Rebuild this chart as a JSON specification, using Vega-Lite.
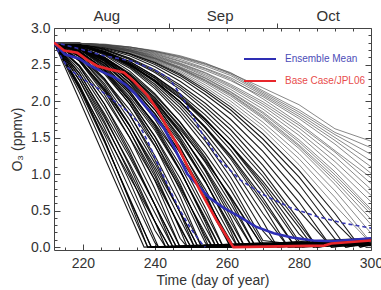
{
  "$schema": "https://vega.github.io/schema/vega-lite/v6.json",
  "width": 317,
  "height": 222,
  "autosize": {"type": "none"},
  "padding": {"left": 54, "top": 28, "right": 10, "bottom": 40},
  "background": "white",
  "config": {
    "font": "Liberation Sans",
    "view": {"stroke": "#444", "strokeWidth": 1},
    "axis": {"grid": false, "domain": false, "tickColor": "#444", "tickWidth": 1, "labelColor": "#333", "titleColor": "#333", "labelFontSize": 14, "titleFontSize": 14, "titleFontWeight": "normal", "labelFlush": false}
  },
  "datasets": {
    "ens": [
      {"m":1,"d":212,"o":2.8},{"m":1,"d":219,"o":2.02},{"m":1,"d":226,"o":1.23},{"m":1,"d":233,"o":0.45},{"m":1,"d":237,"o":0},{"m":1,"d":254,"o":0.02},{"m":1,"d":300,"o":0.05},
      {"m":2,"d":212,"o":2.8},{"m":2,"d":219,"o":2.17},{"m":2,"d":226,"o":1.44},{"m":2,"d":233,"o":0.67},{"m":2,"d":239,"o":0},{"m":2,"d":261,"o":0.03},{"m":2,"d":300,"o":0.04},
      {"m":3,"d":212,"o":2.8},{"m":3,"d":219,"o":2.29},{"m":3,"d":226,"o":1.63},{"m":3,"d":233,"o":0.9},{"m":3,"d":240,"o":0.11},{"m":3,"d":241,"o":0},{"m":3,"d":270,"o":0.05},{"m":3,"d":300,"o":0.07},
      {"m":4,"d":212,"o":2.8},{"m":4,"d":219,"o":2.39},{"m":4,"d":226,"o":1.8},{"m":4,"d":233,"o":1.11},{"m":4,"d":240,"o":0.35},{"m":4,"d":243,"o":0},{"m":4,"d":261,"o":0.02},{"m":4,"d":300,"o":0.03},
      {"m":5,"d":212,"o":2.8},{"m":5,"d":219,"o":2.48},{"m":5,"d":226,"o":1.96},{"m":5,"d":233,"o":1.31},{"m":5,"d":240,"o":0.58},{"m":5,"d":245,"o":0},{"m":5,"d":280,"o":0.04},{"m":5,"d":300,"o":0.08},
      {"m":6,"d":212,"o":2.8},{"m":6,"d":219,"o":2.55},{"m":6,"d":226,"o":2.09},{"m":6,"d":233,"o":1.5},{"m":6,"d":240,"o":0.8},{"m":6,"d":247,"o":0},{"m":6,"d":270,"o":0.03},{"m":6,"d":300,"o":0.05},
      {"m":7,"d":212,"o":2.8},{"m":7,"d":219,"o":2.61},{"m":7,"d":226,"o":2.21},{"m":7,"d":233,"o":1.67},{"m":7,"d":240,"o":1.01},{"m":7,"d":247,"o":0.24},{"m":7,"d":249,"o":0},{"m":7,"d":261,"o":0.02},{"m":7,"d":300,"o":0.1},
      {"m":8,"d":212,"o":2.8},{"m":8,"d":219,"o":2.65},{"m":8,"d":226,"o":2.31},{"m":8,"d":233,"o":1.82},{"m":8,"d":240,"o":1.2},{"m":8,"d":247,"o":0.47},{"m":8,"d":251,"o":0},{"m":8,"d":280,"o":0.05},{"m":8,"d":300,"o":0.06},
      {"m":9,"d":212,"o":2.8},{"m":9,"d":219,"o":2.68},{"m":9,"d":226,"o":2.4},{"m":9,"d":233,"o":1.96},{"m":9,"d":240,"o":1.39},{"m":9,"d":247,"o":0.69},{"m":9,"d":253,"o":0},{"m":9,"d":270,"o":0.04},{"m":9,"d":300,"o":0.09},
      {"m":10,"d":212,"o":2.8},{"m":10,"d":219,"o":2.69},{"m":10,"d":226,"o":2.43},{"m":10,"d":233,"o":2.03},{"m":10,"d":240,"o":1.51},{"m":10,"d":247,"o":0.87},{"m":10,"d":254,"o":0.11},{"m":10,"d":255,"o":0},{"m":10,"d":280,"o":0.06},{"m":10,"d":300,"o":0.04},
      {"m":11,"d":212,"o":2.8},{"m":11,"d":219,"o":2.72},{"m":11,"d":226,"o":2.49},{"m":11,"d":233,"o":2.14},{"m":11,"d":240,"o":1.66},{"m":11,"d":247,"o":1.06},{"m":11,"d":254,"o":0.34},{"m":11,"d":257,"o":0},{"m":11,"d":270,"o":0.03},{"m":11,"d":300,"o":0.1},
      {"m":12,"d":212,"o":2.8},{"m":12,"d":219,"o":2.72},{"m":12,"d":226,"o":2.52},{"m":12,"d":233,"o":2.19},{"m":12,"d":240,"o":1.75},{"m":12,"d":247,"o":1.2},{"m":12,"d":254,"o":0.54},{"m":12,"d":259,"o":0},{"m":12,"d":290,"o":0.05},{"m":12,"d":300,"o":0.07},
      {"m":13,"d":212,"o":2.8},{"m":13,"d":219,"o":2.74},{"m":13,"d":226,"o":2.57},{"m":13,"d":233,"o":2.28},{"m":13,"d":240,"o":1.88},{"m":13,"d":247,"o":1.37},{"m":13,"d":254,"o":0.74},{"m":13,"d":261,"o":0},{"m":13,"d":280,"o":0.08},{"m":13,"d":300,"o":0.12},
      {"m":14,"d":212,"o":2.8},{"m":14,"d":219,"o":2.75},{"m":14,"d":226,"o":2.59},{"m":14,"d":233,"o":2.32},{"m":14,"d":240,"o":1.96},{"m":14,"d":247,"o":1.48},{"m":14,"d":254,"o":0.9},{"m":14,"d":261,"o":0.22},{"m":14,"d":263,"o":0},{"m":14,"d":300,"o":0.05},
      {"m":15,"d":212,"o":2.8},{"m":15,"d":219,"o":2.75},{"m":15,"d":226,"o":2.6},{"m":15,"d":233,"o":2.36},{"m":15,"d":240,"o":2.02},{"m":15,"d":247,"o":1.58},{"m":15,"d":254,"o":1.04},{"m":15,"d":261,"o":0.41},{"m":15,"d":265,"o":0},{"m":15,"d":290,"o":0.06},{"m":15,"d":300,"o":0.1},
      {"m":16,"d":212,"o":2.8},{"m":16,"d":219,"o":2.76},{"m":16,"d":226,"o":2.63},{"m":16,"d":233,"o":2.41},{"m":16,"d":240,"o":2.1},{"m":16,"d":247,"o":1.71},{"m":16,"d":254,"o":1.23},{"m":16,"d":261,"o":0.66},{"m":16,"d":268,"o":0},{"m":16,"d":300,"o":0.08},
      {"m":17,"d":212,"o":2.8},{"m":17,"d":219,"o":2.76},{"m":17,"d":226,"o":2.64},{"m":17,"d":233,"o":2.45},{"m":17,"d":240,"o":2.17},{"m":17,"d":247,"o":1.81},{"m":17,"d":254,"o":1.38},{"m":17,"d":261,"o":0.87},{"m":17,"d":270,"o":0.09},{"m":17,"d":280,"o":0.03},{"m":17,"d":300,"o":0.06},
      {"m":18,"d":212,"o":2.8},{"m":18,"d":219,"o":2.76},{"m":18,"d":226,"o":2.66},{"m":18,"d":233,"o":2.48},{"m":18,"d":240,"o":2.23},{"m":18,"d":247,"o":1.91},{"m":18,"d":254,"o":1.51},{"m":18,"d":261,"o":1.05},{"m":18,"d":270,"o":0.35},{"m":18,"d":274,"o":0},{"m":18,"d":300,"o":0.1},
      {"m":19,"d":212,"o":2.8},{"m":19,"d":219,"o":2.77},{"m":19,"d":226,"o":2.67},{"m":19,"d":233,"o":2.51},{"m":19,"d":240,"o":2.28},{"m":19,"d":247,"o":1.99},{"m":19,"d":254,"o":1.63},{"m":19,"d":261,"o":1.21},{"m":19,"d":270,"o":0.57},{"m":19,"d":277,"o":0},{"m":19,"d":300,"o":0.04},
      {"m":20,"d":212,"o":2.8},{"m":20,"d":219,"o":2.77},{"m":20,"d":226,"o":2.68},{"m":20,"d":233,"o":2.54},{"m":20,"d":240,"o":2.34},{"m":20,"d":247,"o":2.08},{"m":20,"d":254,"o":1.76},{"m":20,"d":261,"o":1.39},{"m":20,"d":270,"o":0.82},{"m":20,"d":280,"o":0.08},{"m":20,"d":290,"o":0.03},{"m":20,"d":300,"o":0.05},
      {"m":21,"d":212,"o":2.8},{"m":21,"d":219,"o":2.77},{"m":21,"d":226,"o":2.7},{"m":21,"d":233,"o":2.57},{"m":21,"d":240,"o":2.39},{"m":21,"d":247,"o":2.16},{"m":21,"d":254,"o":1.87},{"m":21,"d":261,"o":1.54},{"m":21,"d":270,"o":1.03},{"m":21,"d":280,"o":0.37},{"m":21,"d":285,"o":0},{"m":21,"d":300,"o":0.09},
      {"m":22,"d":212,"o":2.8},{"m":22,"d":219,"o":2.78},{"m":22,"d":226,"o":2.71},{"m":22,"d":233,"o":2.59},{"m":22,"d":240,"o":2.43},{"m":22,"d":247,"o":2.22},{"m":22,"d":254,"o":1.97},{"m":22,"d":261,"o":1.67},{"m":22,"d":270,"o":1.21},{"m":22,"d":280,"o":0.62},{"m":22,"d":289,"o":0},{"m":22,"d":300,"o":0.06},
      {"m":23,"d":212,"o":2.8},{"m":23,"d":219,"o":2.78},{"m":23,"d":226,"o":2.73},{"m":23,"d":233,"o":2.64},{"m":23,"d":240,"o":2.5},{"m":23,"d":247,"o":2.32},{"m":23,"d":254,"o":2.09},{"m":23,"d":261,"o":1.83},{"m":23,"d":270,"o":1.41},{"m":23,"d":280,"o":0.86},{"m":23,"d":290,"o":0.21},{"m":23,"d":293,"o":0},{"m":23,"d":300,"o":0.05},
      {"m":24,"d":212,"o":2.8},{"m":24,"d":219,"o":2.79},{"m":24,"d":226,"o":2.74},{"m":24,"d":233,"o":2.65},{"m":24,"d":240,"o":2.53},{"m":24,"d":247,"o":2.37},{"m":24,"d":254,"o":2.16},{"m":24,"d":261,"o":1.92},{"m":24,"d":270,"o":1.55},{"m":24,"d":280,"o":1.05},{"m":24,"d":290,"o":0.46},{"m":24,"d":297,"o":0},{"m":24,"d":300,"o":0.03},
      {"m":25,"d":212,"o":2.8},{"m":25,"d":219,"o":2.79},{"m":25,"d":226,"o":2.74},{"m":25,"d":233,"o":2.67},{"m":25,"d":240,"o":2.55},{"m":25,"d":247,"o":2.41},{"m":25,"d":254,"o":2.22},{"m":25,"d":261,"o":2.0},{"m":25,"d":270,"o":1.66},{"m":25,"d":280,"o":1.21},{"m":25,"d":290,"o":0.68},{"m":25,"d":300,"o":0.06},
      {"m":26,"d":212,"o":2.8},{"m":26,"d":219,"o":2.79},{"m":26,"d":226,"o":2.75},{"m":26,"d":233,"o":2.68},{"m":26,"d":240,"o":2.57},{"m":26,"d":247,"o":2.44},{"m":26,"d":254,"o":2.27},{"m":26,"d":261,"o":2.07},{"m":26,"d":270,"o":1.76},{"m":26,"d":280,"o":1.35},{"m":26,"d":290,"o":0.86},{"m":26,"d":300,"o":0.31},
      {"m":27,"d":212,"o":2.8},{"m":27,"d":219,"o":2.79},{"m":27,"d":226,"o":2.75},{"m":27,"d":233,"o":2.69},{"m":27,"d":240,"o":2.59},{"m":27,"d":247,"o":2.47},{"m":27,"d":254,"o":2.32},{"m":27,"d":261,"o":2.13},{"m":27,"d":270,"o":1.85},{"m":27,"d":280,"o":1.47},{"m":27,"d":290,"o":1.03},{"m":27,"d":300,"o":0.52},
      {"m":28,"d":212,"o":2.8},{"m":28,"d":219,"o":2.79},{"m":28,"d":226,"o":2.76},{"m":28,"d":233,"o":2.7},{"m":28,"d":240,"o":2.61},{"m":28,"d":247,"o":2.5},{"m":28,"d":254,"o":2.36},{"m":28,"d":261,"o":2.19},{"m":28,"d":270,"o":1.93},{"m":28,"d":280,"o":1.58},{"m":28,"d":290,"o":1.17},{"m":28,"d":300,"o":0.71},
      {"m":29,"d":212,"o":2.8},{"m":29,"d":219,"o":2.79},{"m":29,"d":226,"o":2.76},{"m":29,"d":233,"o":2.7},{"m":29,"d":240,"o":2.63},{"m":29,"d":247,"o":2.52},{"m":29,"d":254,"o":2.39},{"m":29,"d":261,"o":2.23},{"m":29,"d":270,"o":1.99},{"m":29,"d":280,"o":1.67},{"m":29,"d":290,"o":1.3},{"m":29,"d":300,"o":0.87},
      {"m":30,"d":212,"o":2.8},{"m":30,"d":219,"o":2.79},{"m":30,"d":226,"o":2.76},{"m":30,"d":233,"o":2.71},{"m":30,"d":240,"o":2.64},{"m":30,"d":247,"o":2.54},{"m":30,"d":254,"o":2.42},{"m":30,"d":261,"o":2.28},{"m":30,"d":270,"o":2.06},{"m":30,"d":280,"o":1.76},{"m":30,"d":290,"o":1.41},{"m":30,"d":300,"o":1.01},
      {"m":31,"d":212,"o":2.8},{"m":31,"d":219,"o":2.79},{"m":31,"d":226,"o":2.77},{"m":31,"d":233,"o":2.73},{"m":31,"d":240,"o":2.67},{"m":31,"d":247,"o":2.59},{"m":31,"d":254,"o":2.48},{"m":31,"d":261,"o":2.35},{"m":31,"d":270,"o":2.1},{"m":31,"d":280,"o":1.82},{"m":31,"d":290,"o":1.5},{"m":31,"d":300,"o":1.18},
      {"m":32,"d":212,"o":2.8},{"m":32,"d":219,"o":2.79},{"m":32,"d":226,"o":2.77},{"m":32,"d":233,"o":2.74},{"m":32,"d":240,"o":2.68},{"m":32,"d":247,"o":2.61},{"m":32,"d":254,"o":2.51},{"m":32,"d":261,"o":2.39},{"m":32,"d":270,"o":2.14},{"m":32,"d":280,"o":1.88},{"m":32,"d":290,"o":1.57},{"m":32,"d":300,"o":1.36},
      {"m":33,"d":212,"o":2.8},{"m":33,"d":219,"o":2.79},{"m":33,"d":226,"o":2.78},{"m":33,"d":233,"o":2.74},{"m":33,"d":240,"o":2.69},{"m":33,"d":247,"o":2.62},{"m":33,"d":254,"o":2.52},{"m":33,"d":261,"o":2.38},{"m":33,"d":270,"o":2.18},{"m":33,"d":280,"o":1.95},{"m":33,"d":290,"o":1.62},{"m":33,"d":300,"o":1.45},
      {"m":34,"d":212,"o":2.8},{"m":34,"d":219,"o":2.22},{"m":34,"d":226,"o":1.47},{"m":34,"d":233,"o":0.63},{"m":34,"d":238,"o":0},{"m":34,"d":254,"o":0.03},{"m":34,"d":300,"o":0.02},
      {"m":35,"d":212,"o":2.8},{"m":35,"d":219,"o":2.19},{"m":35,"d":226,"o":1.58},{"m":35,"d":233,"o":0.96},{"m":35,"d":240,"o":0.35},{"m":35,"d":244,"o":0},{"m":35,"d":270,"o":0.06},{"m":35,"d":300,"o":0.03},
      {"m":36,"d":212,"o":2.8},{"m":36,"d":219,"o":2.49},{"m":36,"d":226,"o":2.04},{"m":36,"d":233,"o":1.5},{"m":36,"d":240,"o":0.92},{"m":36,"d":247,"o":0.28},{"m":36,"d":250,"o":0},{"m":36,"d":290,"o":0.04},{"m":36,"d":300,"o":0.11},
      {"m":37,"d":212,"o":2.8},{"m":37,"d":219,"o":2.62},{"m":37,"d":226,"o":2.3},{"m":37,"d":233,"o":1.88},{"m":37,"d":240,"o":1.38},{"m":37,"d":247,"o":0.81},{"m":37,"d":254,"o":0.19},{"m":37,"d":256,"o":0},{"m":37,"d":300,"o":0.07},
      {"m":38,"d":212,"o":2.8},{"m":38,"d":219,"o":2.68},{"m":38,"d":226,"o":2.44},{"m":38,"d":233,"o":2.1},{"m":38,"d":240,"o":1.69},{"m":38,"d":247,"o":1.22},{"m":38,"d":254,"o":0.68},{"m":38,"d":261,"o":0.09},{"m":38,"d":262,"o":0},{"m":38,"d":280,"o":0.05},{"m":38,"d":300,"o":0.08},
      {"m":39,"d":212,"o":2.8},{"m":39,"d":219,"o":2.73},{"m":39,"d":226,"o":2.56},{"m":39,"d":233,"o":2.3},{"m":39,"d":240,"o":1.97},{"m":39,"d":247,"o":1.56},{"m":39,"d":254,"o":1.08},{"m":39,"d":261,"o":0.53},{"m":39,"d":267,"o":0},{"m":39,"d":300,"o":0.12},
      {"m":40,"d":212,"o":2.8},{"m":40,"d":219,"o":2.76},{"m":40,"d":226,"o":2.65},{"m":40,"d":233,"o":2.5},{"m":40,"d":240,"o":2.29},{"m":40,"d":247,"o":2.04},{"m":40,"d":254,"o":1.74},{"m":40,"d":261,"o":1.4},{"m":40,"d":270,"o":0.9},{"m":40,"d":280,"o":0.27},{"m":40,"d":284,"o":0},{"m":40,"d":300,"o":0.06},
      {"m":41,"d":212,"o":2.8},{"m":41,"d":219,"o":2.38},{"m":41,"d":226,"o":1.83},{"m":41,"d":233,"o":1.23},{"m":41,"d":240,"o":0.58},{"m":41,"d":246,"o":0},{"m":41,"d":261,"o":0.04},{"m":41,"d":300,"o":0.09},
      {"m":42,"d":212,"o":2.8},{"m":42,"d":219,"o":2.56},{"m":42,"d":226,"o":2.16},{"m":42,"d":233,"o":1.66},{"m":42,"d":240,"o":1.1},{"m":42,"d":247,"o":0.48},{"m":42,"d":252,"o":0},{"m":42,"d":280,"o":0.02},{"m":42,"d":300,"o":0.05},
      {"m":43,"d":212,"o":2.8},{"m":43,"d":219,"o":2.69},{"m":43,"d":226,"o":2.43},{"m":43,"d":233,"o":2.06},{"m":43,"d":240,"o":1.6},{"m":43,"d":247,"o":1.04},{"m":43,"d":254,"o":0.4},{"m":43,"d":258,"o":0},{"m":43,"d":290,"o":0.07},{"m":43,"d":300,"o":0.04},
      {"m":44,"d":212,"o":2.8},{"m":44,"d":219,"o":2.72},{"m":44,"d":226,"o":2.54},{"m":44,"d":233,"o":2.25},{"m":44,"d":240,"o":1.88},{"m":44,"d":247,"o":1.43},{"m":44,"d":254,"o":0.89},{"m":44,"d":261,"o":0.29},{"m":44,"d":264,"o":0},{"m":44,"d":300,"o":0.09},
      {"m":45,"d":212,"o":2.8},{"m":45,"d":219,"o":2.72},{"m":45,"d":226,"o":2.55},{"m":45,"d":233,"o":2.3},{"m":45,"d":240,"o":1.99},{"m":45,"d":247,"o":1.61},{"m":45,"d":254,"o":1.18},{"m":45,"d":261,"o":0.7},{"m":45,"d":270,"o":0},{"m":45,"d":300,"o":0.05},
      {"m":46,"d":212,"o":2.8},{"m":46,"d":219,"o":2.76},{"m":46,"d":226,"o":2.66},{"m":46,"d":233,"o":2.49},{"m":46,"d":240,"o":2.27},{"m":46,"d":247,"o":1.99},{"m":46,"d":254,"o":1.65},{"m":46,"d":261,"o":1.26},{"m":46,"d":270,"o":0.67},{"m":46,"d":279,"o":0},{"m":46,"d":300,"o":0.07},
      {"m":47,"d":212,"o":2.8},{"m":47,"d":219,"o":2.79},{"m":47,"d":226,"o":2.77},{"m":47,"d":233,"o":2.72},{"m":47,"d":240,"o":2.65},{"m":47,"d":247,"o":2.55},{"m":47,"d":254,"o":2.44},{"m":47,"d":261,"o":2.3},{"m":47,"d":270,"o":2.03},{"m":47,"d":280,"o":1.7},{"m":47,"d":290,"o":1.32},{"m":47,"d":300,"o":0.95},
      {"m":48,"d":212,"o":2.8},{"m":48,"d":219,"o":2.79},{"m":48,"d":226,"o":2.75},{"m":48,"d":233,"o":2.68},{"m":48,"d":240,"o":2.58},{"m":48,"d":247,"o":2.45},{"m":48,"d":254,"o":2.29},{"m":48,"d":261,"o":2.1},{"m":48,"d":270,"o":1.8},{"m":48,"d":280,"o":1.4},{"m":48,"d":290,"o":0.95},{"m":48,"d":300,"o":0.45},
      {"m":101,"d":212,"o":2.8},{"m":101,"d":219,"o":2.12},{"m":101,"d":226,"o":1.35},{"m":101,"d":233,"o":0.54},{"m":101,"d":238,"o":0},{"m":101,"d":300,"o":0.04},
      {"m":102,"d":212,"o":2.8},{"m":102,"d":219,"o":2.2},{"m":102,"d":226,"o":1.46},{"m":102,"d":233,"o":0.65},{"m":102,"d":239,"o":0},{"m":102,"d":300,"o":0.03},
      {"m":103,"d":212,"o":2.8},{"m":103,"d":219,"o":2.23},{"m":103,"d":226,"o":1.54},{"m":103,"d":233,"o":0.79},{"m":103,"d":240,"o":0.06},{"m":103,"d":241,"o":0},{"m":103,"d":300,"o":0.06},
      {"m":104,"d":212,"o":2.8},{"m":104,"d":219,"o":2.34},{"m":104,"d":226,"o":1.72},{"m":104,"d":233,"o":1.0},{"m":104,"d":240,"o":0.23},{"m":104,"d":243,"o":0},{"m":104,"d":300,"o":0.05},
      {"m":105,"d":212,"o":2.8},{"m":105,"d":219,"o":2.29},{"m":105,"d":226,"o":1.69},{"m":105,"d":233,"o":1.04},{"m":105,"d":240,"o":0.35},{"m":105,"d":244,"o":0},{"m":105,"d":300,"o":0.04},
      {"m":106,"d":212,"o":2.8},{"m":106,"d":219,"o":2.34},{"m":106,"d":226,"o":1.77},{"m":106,"d":233,"o":1.14},{"m":106,"d":240,"o":0.47},{"m":106,"d":245,"o":0},{"m":106,"d":300,"o":0.07},
      {"m":107,"d":212,"o":2.8},{"m":107,"d":219,"o":2.43},{"m":107,"d":226,"o":1.9},{"m":107,"d":233,"o":1.27},{"m":107,"d":240,"o":0.58},{"m":107,"d":246,"o":0},{"m":107,"d":300,"o":0.08},
      {"m":108,"d":212,"o":2.8},{"m":108,"d":219,"o":2.47},{"m":108,"d":226,"o":1.96},{"m":108,"d":233,"o":1.37},{"m":108,"d":240,"o":0.69},{"m":108,"d":247,"o":0},{"m":108,"d":300,"o":0.06},
      {"m":109,"d":212,"o":2.8},{"m":109,"d":219,"o":2.58},{"m":109,"d":226,"o":2.15},{"m":109,"d":233,"o":1.59},{"m":109,"d":240,"o":0.91},{"m":109,"d":247,"o":0.12},{"m":109,"d":249,"o":0},{"m":109,"d":300,"o":0.07},
      {"m":110,"d":212,"o":2.8},{"m":110,"d":219,"o":2.55},{"m":110,"d":226,"o":2.13},{"m":110,"d":233,"o":1.59},{"m":110,"d":240,"o":0.97},{"m":110,"d":247,"o":0.26},{"m":110,"d":250,"o":0},{"m":110,"d":300,"o":0.09},
      {"m":111,"d":212,"o":2.8},{"m":111,"d":219,"o":2.57},{"m":111,"d":226,"o":2.18},{"m":111,"d":233,"o":1.66},{"m":111,"d":240,"o":1.06},{"m":111,"d":247,"o":0.38},{"m":111,"d":251,"o":0},{"m":111,"d":300,"o":0.05},
      {"m":112,"d":212,"o":2.8},{"m":112,"d":219,"o":2.61},{"m":112,"d":226,"o":2.24},{"m":112,"d":233,"o":1.74},{"m":112,"d":240,"o":1.15},{"m":112,"d":247,"o":0.48},{"m":112,"d":252,"o":0},{"m":112,"d":300,"o":0.06},
      {"m":113,"d":212,"o":2.8},{"m":113,"d":219,"o":2.62},{"m":113,"d":226,"o":2.28},{"m":113,"d":233,"o":1.81},{"m":113,"d":240,"o":1.25},{"m":113,"d":247,"o":0.59},{"m":113,"d":253,"o":0},{"m":113,"d":300,"o":0.08},
      {"m":114,"d":212,"o":2.8},{"m":114,"d":219,"o":2.69},{"m":114,"d":226,"o":2.42},{"m":114,"d":233,"o":2.0},{"m":114,"d":240,"o":1.45},{"m":114,"d":247,"o":0.78},{"m":114,"d":254,"o":0.06},{"m":114,"d":255,"o":0},{"m":114,"d":300,"o":0.05},
      {"m":115,"d":212,"o":2.8},{"m":115,"d":219,"o":2.66},{"m":115,"d":226,"o":2.37},{"m":115,"d":233,"o":1.96},{"m":115,"d":240,"o":1.45},{"m":115,"d":247,"o":0.84},{"m":115,"d":254,"o":0.15},{"m":115,"d":256,"o":0},{"m":115,"d":300,"o":0.1},
      {"m":116,"d":212,"o":2.8},{"m":116,"d":219,"o":2.67},{"m":116,"d":226,"o":2.4},{"m":116,"d":233,"o":2.01},{"m":116,"d":240,"o":1.52},{"m":116,"d":247,"o":0.94},{"m":116,"d":254,"o":0.27},{"m":116,"d":257,"o":0},{"m":116,"d":300,"o":0.06},
      {"m":117,"d":212,"o":2.8},{"m":117,"d":219,"o":2.71},{"m":117,"d":226,"o":2.46},{"m":117,"d":233,"o":2.1},{"m":117,"d":240,"o":1.63},{"m":117,"d":247,"o":1.05},{"m":117,"d":254,"o":0.37},{"m":117,"d":258,"o":0},{"m":117,"d":300,"o":0.08},
      {"m":118,"d":212,"o":2.8},{"m":118,"d":219,"o":2.71},{"m":118,"d":226,"o":2.48},{"m":118,"d":233,"o":2.13},{"m":118,"d":240,"o":1.68},{"m":118,"d":247,"o":1.12},{"m":118,"d":254,"o":0.47},{"m":118,"d":259,"o":0},{"m":118,"d":300,"o":0.05},
      {"m":119,"d":212,"o":2.8},{"m":119,"d":219,"o":2.73},{"m":119,"d":226,"o":2.55},{"m":119,"d":233,"o":2.24},{"m":119,"d":240,"o":1.82},{"m":119,"d":247,"o":1.29},{"m":119,"d":254,"o":0.64},{"m":119,"d":261,"o":0},{"m":119,"d":300,"o":0.09},
      {"m":120,"d":212,"o":2.8},{"m":120,"d":219,"o":2.71},{"m":120,"d":226,"o":2.51},{"m":120,"d":233,"o":2.19},{"m":120,"d":240,"o":1.79},{"m":120,"d":247,"o":1.3},{"m":120,"d":254,"o":0.71},{"m":120,"d":261,"o":0.05},{"m":120,"d":262,"o":0},{"m":120,"d":300,"o":0.07},
      {"m":121,"d":212,"o":2.8},{"m":121,"d":219,"o":2.72},{"m":121,"d":226,"o":2.52},{"m":121,"d":233,"o":2.21},{"m":121,"d":240,"o":1.83},{"m":121,"d":247,"o":1.35},{"m":121,"d":254,"o":0.79},{"m":121,"d":261,"o":0.16},{"m":121,"d":263,"o":0},{"m":121,"d":300,"o":0.1},
      {"m":122,"d":212,"o":2.8},{"m":122,"d":219,"o":2.74},{"m":122,"d":226,"o":2.57},{"m":122,"d":233,"o":2.29},{"m":122,"d":240,"o":1.92},{"m":122,"d":247,"o":1.46},{"m":122,"d":254,"o":0.9},{"m":122,"d":261,"o":0.26},{"m":122,"d":264,"o":0},{"m":122,"d":300,"o":0.06},
      {"m":123,"d":212,"o":2.8},{"m":123,"d":219,"o":2.74},{"m":123,"d":226,"o":2.57},{"m":123,"d":233,"o":2.31},{"m":123,"d":240,"o":1.95},{"m":123,"d":247,"o":1.51},{"m":123,"d":254,"o":0.97},{"m":123,"d":261,"o":0.35},{"m":123,"d":265,"o":0},{"m":123,"d":300,"o":0.08},
      {"m":124,"d":212,"o":2.8},{"m":124,"d":219,"o":2.74},{"m":124,"d":226,"o":2.58},{"m":124,"d":233,"o":2.33},{"m":124,"d":240,"o":2.0},{"m":124,"d":247,"o":1.57},{"m":124,"d":254,"o":1.06},{"m":124,"d":261,"o":0.47},{"m":124,"d":267,"o":0},{"m":124,"d":300,"o":0.11},
      {"m":125,"d":212,"o":2.8},{"m":125,"d":219,"o":2.75},{"m":125,"d":226,"o":2.6},{"m":125,"d":233,"o":2.36},{"m":125,"d":240,"o":2.04},{"m":125,"d":247,"o":1.64},{"m":125,"d":254,"o":1.16},{"m":125,"d":261,"o":0.6},{"m":125,"d":268,"o":0},{"m":125,"d":300,"o":0.07},
      {"m":126,"d":212,"o":2.8},{"m":126,"d":219,"o":2.74},{"m":126,"d":226,"o":2.59},{"m":126,"d":233,"o":2.36},{"m":126,"d":240,"o":2.05},{"m":126,"d":247,"o":1.66},{"m":126,"d":254,"o":1.21},{"m":126,"d":261,"o":0.68},{"m":126,"d":270,"o":0},{"m":126,"d":300,"o":0.09},
      {"m":127,"d":212,"o":2.8},{"m":127,"d":219,"o":2.74},{"m":127,"d":226,"o":2.6},{"m":127,"d":233,"o":2.38},{"m":127,"d":240,"o":2.08},{"m":127,"d":247,"o":1.71},{"m":127,"d":254,"o":1.28},{"m":127,"d":261,"o":0.79},{"m":127,"d":270,"o":0.05},{"m":127,"d":271,"o":0},{"m":127,"d":300,"o":0.06},
      {"m":128,"d":212,"o":2.8},{"m":128,"d":219,"o":2.76},{"m":128,"d":226,"o":2.65},{"m":128,"d":233,"o":2.47},{"m":128,"d":240,"o":2.2},{"m":128,"d":247,"o":1.86},{"m":128,"d":254,"o":1.45},{"m":128,"d":261,"o":0.96},{"m":128,"d":270,"o":0.22},{"m":128,"d":274,"o":0},{"m":128,"d":300,"o":0.08},
      {"m":129,"d":212,"o":2.8},{"m":129,"d":219,"o":2.77},{"m":129,"d":226,"o":2.67},{"m":129,"d":233,"o":2.5},{"m":129,"d":240,"o":2.26},{"m":129,"d":247,"o":1.95},{"m":129,"d":254,"o":1.57},{"m":129,"d":261,"o":1.13},{"m":129,"d":270,"o":0.46},{"m":129,"d":277,"o":0},{"m":129,"d":300,"o":0.05},
      {"m":130,"d":212,"o":2.8},{"m":130,"d":219,"o":2.77},{"m":130,"d":226,"o":2.67},{"m":130,"d":233,"o":2.5},{"m":130,"d":240,"o":2.28},{"m":130,"d":247,"o":1.99},{"m":130,"d":254,"o":1.64},{"m":130,"d":261,"o":1.24},{"m":130,"d":270,"o":0.62},{"m":130,"d":279,"o":0},{"m":130,"d":300,"o":0.07},
      {"m":131,"d":212,"o":2.8},{"m":131,"d":219,"o":2.77},{"m":131,"d":226,"o":2.67},{"m":131,"d":233,"o":2.52},{"m":131,"d":240,"o":2.31},{"m":131,"d":247,"o":2.04},{"m":131,"d":254,"o":1.71},{"m":131,"d":261,"o":1.33},{"m":131,"d":270,"o":0.75},{"m":131,"d":280,"o":0.04},{"m":131,"d":281,"o":0},{"m":131,"d":300,"o":0.06},
      {"m":132,"d":212,"o":2.8},{"m":132,"d":219,"o":2.77},{"m":132,"d":226,"o":2.67},{"m":132,"d":233,"o":2.52},{"m":132,"d":240,"o":2.32},{"m":132,"d":247,"o":2.06},{"m":132,"d":254,"o":1.75},{"m":132,"d":261,"o":1.4},{"m":132,"d":270,"o":0.86},{"m":132,"d":280,"o":0.18},{"m":132,"d":284,"o":0},{"m":132,"d":300,"o":0.08},
      {"m":133,"d":212,"o":2.8},{"m":133,"d":219,"o":2.77},{"m":133,"d":226,"o":2.68},{"m":133,"d":233,"o":2.54},{"m":133,"d":240,"o":2.34},{"m":133,"d":247,"o":2.1},{"m":133,"d":254,"o":1.81},{"m":133,"d":261,"o":1.47},{"m":133,"d":270,"o":0.97},{"m":133,"d":280,"o":0.32},{"m":133,"d":285,"o":0},{"m":133,"d":300,"o":0.07},
      {"m":134,"d":212,"o":2.8},{"m":134,"d":219,"o":2.78},{"m":134,"d":226,"o":2.71},{"m":134,"d":233,"o":2.58},{"m":134,"d":240,"o":2.41},{"m":134,"d":247,"o":2.19},{"m":134,"d":254,"o":1.92},{"m":134,"d":261,"o":1.61},{"m":134,"d":270,"o":1.12},{"m":134,"d":280,"o":0.5},{"m":134,"d":289,"o":0},{"m":134,"d":300,"o":0.05},
      {"m":135,"d":212,"o":2.8},{"m":135,"d":219,"o":2.78},{"m":135,"d":226,"o":2.72},{"m":135,"d":233,"o":2.62},{"m":135,"d":240,"o":2.47},{"m":135,"d":247,"o":2.27},{"m":135,"d":254,"o":2.03},{"m":135,"d":261,"o":1.75},{"m":135,"d":270,"o":1.31},{"m":135,"d":280,"o":0.74},{"m":135,"d":290,"o":0.11},{"m":135,"d":293,"o":0},{"m":135,"d":300,"o":0.06},
      {"m":136,"d":212,"o":2.8},{"m":136,"d":219,"o":2.79},{"m":136,"d":226,"o":2.74},{"m":136,"d":233,"o":2.65},{"m":136,"d":240,"o":2.52},{"m":136,"d":247,"o":2.35},{"m":136,"d":254,"o":2.13},{"m":136,"d":261,"o":1.88},{"m":136,"d":270,"o":1.48},{"m":136,"d":280,"o":0.96},{"m":136,"d":290,"o":0.34},{"m":136,"d":297,"o":0},{"m":136,"d":300,"o":0.04},
      {"m":137,"d":212,"o":2.8},{"m":137,"d":219,"o":2.79},{"m":137,"d":226,"o":2.74},{"m":137,"d":233,"o":2.66},{"m":137,"d":240,"o":2.54},{"m":137,"d":247,"o":2.39},{"m":137,"d":254,"o":2.19},{"m":137,"d":261,"o":1.96},{"m":137,"d":270,"o":1.61},{"m":137,"d":280,"o":1.13},{"m":137,"d":290,"o":0.57},{"m":137,"d":300,"o":0.05},
      {"m":138,"d":212,"o":2.8},{"m":138,"d":219,"o":2.79},{"m":138,"d":226,"o":2.75},{"m":138,"d":233,"o":2.68},{"m":138,"d":240,"o":2.56},{"m":138,"d":247,"o":2.43},{"m":138,"d":254,"o":2.25},{"m":138,"d":261,"o":2.04},{"m":138,"d":270,"o":1.71},{"m":138,"d":280,"o":1.28},{"m":138,"d":290,"o":0.77},{"m":138,"d":300,"o":0.19},
      {"m":139,"d":212,"o":2.8},{"m":139,"d":219,"o":2.79},{"m":139,"d":226,"o":2.75},{"m":139,"d":233,"o":2.68},{"m":139,"d":240,"o":2.58},{"m":139,"d":247,"o":2.45},{"m":139,"d":254,"o":2.28},{"m":139,"d":261,"o":2.09},{"m":139,"d":270,"o":1.78},{"m":139,"d":280,"o":1.38},{"m":139,"d":290,"o":0.91},{"m":139,"d":300,"o":0.38},
      {"m":140,"d":212,"o":2.8},{"m":140,"d":219,"o":2.79},{"m":140,"d":226,"o":2.75},{"m":140,"d":233,"o":2.69},{"m":140,"d":240,"o":2.59},{"m":140,"d":247,"o":2.46},{"m":140,"d":254,"o":2.31},{"m":140,"d":261,"o":2.12},{"m":140,"d":270,"o":1.83},{"m":140,"d":280,"o":1.44},{"m":140,"d":290,"o":0.99},{"m":140,"d":300,"o":0.49},
      {"m":141,"d":212,"o":2.8},{"m":141,"d":219,"o":2.79},{"m":141,"d":226,"o":2.76},{"m":141,"d":233,"o":2.7},{"m":141,"d":240,"o":2.6},{"m":141,"d":247,"o":2.49},{"m":141,"d":254,"o":2.34},{"m":141,"d":261,"o":2.16},{"m":141,"d":270,"o":1.89},{"m":141,"d":280,"o":1.53},{"m":141,"d":290,"o":1.1},{"m":141,"d":300,"o":0.62},
      {"m":142,"d":212,"o":2.8},{"m":142,"d":219,"o":2.79},{"m":142,"d":226,"o":2.76},{"m":142,"d":233,"o":2.7},{"m":142,"d":240,"o":2.62},{"m":142,"d":247,"o":2.51},{"m":142,"d":254,"o":2.38},{"m":142,"d":261,"o":2.21},{"m":142,"d":270,"o":1.96},{"m":142,"d":280,"o":1.63},{"m":142,"d":290,"o":1.24},{"m":142,"d":300,"o":0.79},
      {"m":143,"d":212,"o":2.8},{"m":143,"d":219,"o":2.79},{"m":143,"d":226,"o":2.77},{"m":143,"d":233,"o":2.72},{"m":143,"d":240,"o":2.66},{"m":143,"d":247,"o":2.57},{"m":143,"d":254,"o":2.45},{"m":143,"d":261,"o":2.32},{"m":143,"d":270,"o":2.08},{"m":143,"d":280,"o":1.79},{"m":143,"d":290,"o":1.46},{"m":143,"d":300,"o":1.1},
      {"m":144,"d":212,"o":2.8},{"m":144,"d":219,"o":2.79},{"m":144,"d":226,"o":2.77},{"m":144,"d":233,"o":2.74},{"m":144,"d":240,"o":2.68},{"m":144,"d":247,"o":2.6},{"m":144,"d":254,"o":2.5},{"m":144,"d":261,"o":2.37},{"m":144,"d":270,"o":2.12},{"m":144,"d":280,"o":1.85},{"m":144,"d":290,"o":1.54},{"m":144,"d":300,"o":1.27}
    ],
    "curves": [
      {"s":"upper","d":212,"o":2.8},{"s":"upper","d":214,"o":2.78},{"s":"upper","d":219.4,"o":2.71},{"s":"upper","d":225.9,"o":2.62},{"s":"upper","d":233.3,"o":2.55},{"s":"upper","d":239.8,"o":2.43},{"s":"upper","d":244,"o":2.31},{"s":"upper","d":248,"o":2.02},{"s":"upper","d":253.5,"o":1.52},{"s":"upper","d":258,"o":1.19},{"s":"upper","d":263.7,"o":0.92},{"s":"upper","d":270,"o":0.72},{"s":"upper","d":277.6,"o":0.54},{"s":"upper","d":285,"o":0.42},{"s":"upper","d":292,"o":0.33},{"s":"upper","d":300,"o":0.26},
      {"s":"lower","d":212,"o":2.8},{"s":"lower","d":214,"o":2.6},{"s":"lower","d":216,"o":2.45},{"s":"lower","d":219.4,"o":2.32},{"s":"lower","d":224,"o":2.18},{"s":"lower","d":227.7,"o":2.04},{"s":"lower","d":232.4,"o":1.86},{"s":"lower","d":235.1,"o":1.72},{"s":"lower","d":238,"o":1.45},{"s":"lower","d":241,"o":1.12},{"s":"lower","d":244,"o":0.8},{"s":"lower","d":247,"o":0.5},{"s":"lower","d":250,"o":0.25},{"s":"lower","d":253,"o":0.05},{"s":"lower","d":254,"o":0},
      {"s":"Ensemble Mean","d":212,"o":2.8},{"s":"Ensemble Mean","d":215,"o":2.64},{"s":"Ensemble Mean","d":219,"o":2.58},{"s":"Ensemble Mean","d":221.5,"o":2.5},{"s":"Ensemble Mean","d":225,"o":2.41},{"s":"Ensemble Mean","d":229,"o":2.32},{"s":"Ensemble Mean","d":232,"o":2.22},{"s":"Ensemble Mean","d":234.5,"o":2.1},{"s":"Ensemble Mean","d":237,"o":1.95},{"s":"Ensemble Mean","d":240,"o":1.78},{"s":"Ensemble Mean","d":242.6,"o":1.62},{"s":"Ensemble Mean","d":245,"o":1.4},{"s":"Ensemble Mean","d":247,"o":1.2},{"s":"Ensemble Mean","d":249,"o":1.0},{"s":"Ensemble Mean","d":252,"o":0.84},{"s":"Ensemble Mean","d":255,"o":0.68},{"s":"Ensemble Mean","d":259,"o":0.54},{"s":"Ensemble Mean","d":263.7,"o":0.41},{"s":"Ensemble Mean","d":268,"o":0.28},{"s":"Ensemble Mean","d":273,"o":0.19},{"s":"Ensemble Mean","d":278,"o":0.13},{"s":"Ensemble Mean","d":284,"o":0.09},{"s":"Ensemble Mean","d":289,"o":0.08},{"s":"Ensemble Mean","d":295,"o":0.1},{"s":"Ensemble Mean","d":300,"o":0.12},
      {"s":"Base Case/JPL06","d":212,"o":2.8},{"s":"Base Case/JPL06","d":214.8,"o":2.69},{"s":"Base Case/JPL06","d":218.5,"o":2.66},{"s":"Base Case/JPL06","d":221.3,"o":2.56},{"s":"Base Case/JPL06","d":224,"o":2.48},{"s":"Base Case/JPL06","d":227.7,"o":2.43},{"s":"Base Case/JPL06","d":231.4,"o":2.39},{"s":"Base Case/JPL06","d":234.2,"o":2.27},{"s":"Base Case/JPL06","d":237.9,"o":2.08},{"s":"Base Case/JPL06","d":240.7,"o":1.88},{"s":"Base Case/JPL06","d":243.4,"o":1.64},{"s":"Base Case/JPL06","d":246,"o":1.42},{"s":"Base Case/JPL06","d":248.9,"o":1.12},{"s":"Base Case/JPL06","d":252.6,"o":0.77},{"s":"Base Case/JPL06","d":257.2,"o":0.36},{"s":"Base Case/JPL06","d":261.8,"o":0},{"s":"Base Case/JPL06","d":287,"o":0.02},{"s":"Base Case/JPL06","d":289,"o":0.05},{"s":"Base Case/JPL06","d":300,"o":0.09}
    ]
  },
  "resolve": {"scale": {"x": "shared", "y": "shared"}, "axis": {"x": "independent", "y": "independent"}},
  "layer": [
    {
      "data": {"name": "ens"},
      "transform": [{"filter": "!((datum.m >= 25 && datum.m <= 33) || datum.m == 47 || datum.m == 48 || datum.m >= 137)"}],
      "mark": {"type": "line", "color": "#000", "strokeWidth": 1.1, "opacity": 0.9, "clip": true},
      "encoding": {
        "x": {"field": "d", "type": "quantitative", "scale": {"domain": [212, 300], "nice": false, "zero": false},
              "axis": {"orient": "bottom", "values": [220, 240, 260, 280, 300], "tickSize": -6, "labelPadding": 12, "title": "Time (day of year)", "titlePadding": 3}},
        "y": {"field": "o", "type": "quantitative", "scale": {"domain": [-0.04, 3], "nice": false, "zero": false},
              "axis": {"orient": "left", "values": [0, 0.5, 1, 1.5, 2, 2.5, 3], "format": ".1f", "tickSize": -6, "labelPadding": 10, "title": "O₃ (ppmv)", "titlePadding": 6}},
        "detail": {"field": "m", "type": "nominal"}
      }
    },
    {
      "data": {"name": "ens"},
      "transform": [{"filter": "(datum.m >= 25 && datum.m <= 33) || datum.m == 47 || datum.m == 48 || datum.m >= 137"}],
      "mark": {"type": "line", "color": "#444", "strokeWidth": 0.8, "opacity": 0.8, "clip": true},
      "encoding": {
        "x": {"field": "d", "type": "quantitative", "axis": null},
        "y": {"field": "o", "type": "quantitative", "axis": null},
        "detail": {"field": "m", "type": "nominal"}
      }
    },
    {
      "data": {"name": "curves"},
      "transform": [{"filter": "datum.s === 'upper'"}],
      "mark": {"type": "line", "color": "#3434b0", "strokeWidth": 1.6, "strokeDash": [4, 3], "clip": true},
      "encoding": {
        "x": {"field": "d", "type": "quantitative",
              "axis": {"orient": "bottom", "values": [215, 225, 230, 235, 245, 250, 255, 265, 270, 275, 285, 290, 295], "tickSize": -3, "labels": false, "title": null}},
        "y": {"field": "o", "type": "quantitative",
              "axis": {"orient": "left", "values": [0.1, 0.2, 0.3, 0.4, 0.6, 0.7, 0.8, 0.9, 1.1, 1.2, 1.3, 1.4, 1.6, 1.7, 1.8, 1.9, 2.1, 2.2, 2.3, 2.4, 2.6, 2.7, 2.8, 2.9], "tickSize": -3, "labels": false, "title": null}}
      }
    },
    {
      "data": {"name": "curves"},
      "transform": [{"filter": "datum.s === 'lower'"}],
      "mark": {"type": "line", "color": "#3434b0", "strokeWidth": 1.6, "strokeDash": [4, 3], "clip": true},
      "encoding": {
        "x": {"field": "d", "type": "quantitative",
              "axis": {"orient": "top", "values": [215, 220, 225, 230, 235, 240, 245, 250, 255, 260, 265, 270, 275, 280, 285, 290, 295], "tickSize": -3, "labels": false, "title": null}},
        "y": {"field": "o", "type": "quantitative",
              "axis": {"orient": "right", "values": [0, 0.5, 1, 1.5, 2, 2.5, 3], "tickSize": -6, "labels": false, "title": null}}
      }
    },
    {
      "data": {"name": "curves"},
      "transform": [{"filter": "datum.s === 'Ensemble Mean'"}],
      "mark": {"type": "line", "strokeWidth": 2.6, "clip": true},
      "encoding": {
        "x": {"field": "d", "type": "quantitative",
              "axis": {"orient": "top", "values": [226.5, 258, 288], "ticks": false, "labelPadding": 5, "labelFontSize": 15, "labelExpr": "datum.value < 240 ? 'Aug' : datum.value < 270 ? 'Sep' : 'Oct'", "title": null}},
        "y": {"field": "o", "type": "quantitative",
              "axis": {"orient": "right", "values": [0.1, 0.2, 0.3, 0.4, 0.6, 0.7, 0.8, 0.9, 1.1, 1.2, 1.3, 1.4, 1.6, 1.7, 1.8, 1.9, 2.1, 2.2, 2.3, 2.4, 2.6, 2.7, 2.8, 2.9], "tickSize": -3, "labels": false, "title": null}},
        "color": {"field": "s", "type": "nominal",
                  "scale": {"domain": ["Ensemble Mean", "Base Case/JPL06"], "range": ["#2e2eb4", "#e8262b"]},
                  "legend": {"orient": "none", "legendX": 189, "legendY": 14, "title": null, "symbolType": "stroke", "symbolSize": 1024, "symbolStrokeWidth": 2, "labelFontSize": 10, "labelOffset": 8, "rowPadding": -22, "padding": 0,
                             "encode": {"labels": {"update": {"fill": {"signal": "datum.label === 'Ensemble Mean' ? '#4c4cb8' : '#e84c4c'"}}}}}}
      }
    },
    {
      "data": {"name": "curves"},
      "transform": [{"filter": "datum.s === 'Base Case/JPL06'"}],
      "mark": {"type": "line", "strokeWidth": 2.6, "clip": true},
      "encoding": {
        "x": {"field": "d", "type": "quantitative",
              "axis": {"orient": "top", "values": [244, 274], "tickSize": 5, "labels": false, "title": null}},
        "y": {"field": "o", "type": "quantitative", "axis": null},
        "color": {"field": "s", "type": "nominal"}
      }
    }
  ]
}
